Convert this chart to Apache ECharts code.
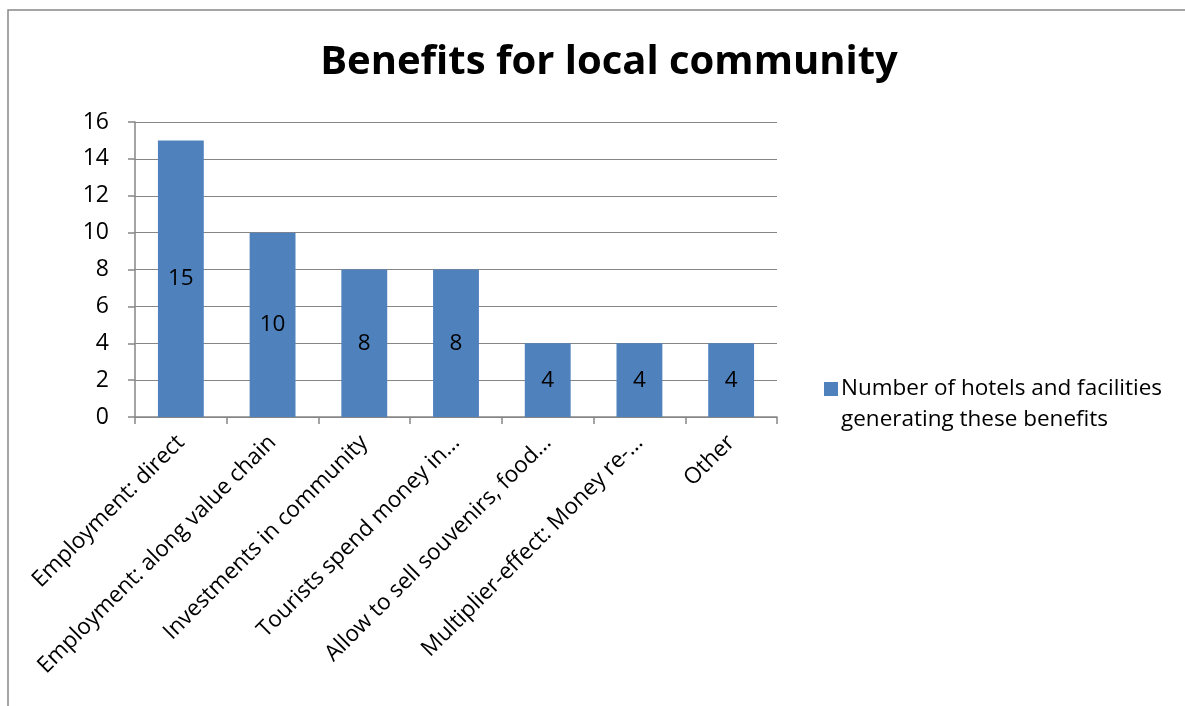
<!DOCTYPE html>
<html><head><meta charset="utf-8">
<script src="https://cdn.jsdelivr.net/npm/echarts@6/dist/echarts.min.js"></script>
<style>html,body{margin:0;padding:0;background:#fff}#c{width:1185px;height:706px}</style>
</head><body><div id="c"></div>
<script>
const categories = ["Employment: direct","Employment: along value chain","Investments in community","Tourists spend money in…","Allow to sell souvenirs, food…","Multiplier-effect: Money re-…","Other"];
const values = [15,10,8,8,4,4,4];
const seriesName = "Number of hotels and facilities\ngenerating these benefits";
const titleText = "Benefits for local community";
const FONT = "Open Sans";
const chart = echarts.init(document.getElementById('c'), null, {renderer:'canvas'});
chart.setOption({
  animation:false,
  backgroundColor:'#fff',
  title:{text:titleText,left:604,top:38,textAlign:'center',textStyle:{fontFamily:FONT,fontSize:40,fontWeight:'bold',color:'#000'}},
  graphic:[{type:'rect',shape:{x:8,y:10,width:1300,height:800},style:{fill:'none',stroke:'#888',lineWidth:1.5},silent:true,z:-1}],
  legend:{show:true,left:819,top:368,orient:'vertical',itemWidth:14,itemHeight:44,itemGap:10,
    icon:'path://M0,0L14,0L14,14L0,14Z M0,44L0.01,44L0.01,43.99Z',
    textStyle:{fontFamily:FONT,fontSize:22.5,color:'#000',lineHeight:31,padding:[0,0,0,-2]},data:[seriesName]},
  grid:{left:135,right:408,top:122,bottom:289,containLabel:false},
  xAxis:{type:'category',data:categories,
    axisLine:{lineStyle:{color:'#868686',width:1.5}},
    axisTick:{show:true,length:7,lineStyle:{color:'#868686',width:1.5}},
    axisLabel:{rotate:45,interval:0,margin:22,fontFamily:FONT,fontSize:22.5,color:'#000'}},
  yAxis:{type:'value',min:0,max:16,interval:2,
    axisLine:{show:true,lineStyle:{color:'#868686',width:1.5}},
    axisTick:{show:true,length:7,lineStyle:{color:'#868686',width:1.5}},
    splitLine:{lineStyle:{color:'#868686',width:1.2}},
    axisLabel:{margin:26,fontFamily:FONT,fontSize:23,color:'#000'}},
  series:[{name:seriesName,type:'bar',data:values,barCategoryGap:'50%',
    itemStyle:{color:'#4F81BD'},
    label:{show:true,position:'inside',fontFamily:FONT,fontSize:22.5,color:'#000'}}]
});
</script></body></html>
